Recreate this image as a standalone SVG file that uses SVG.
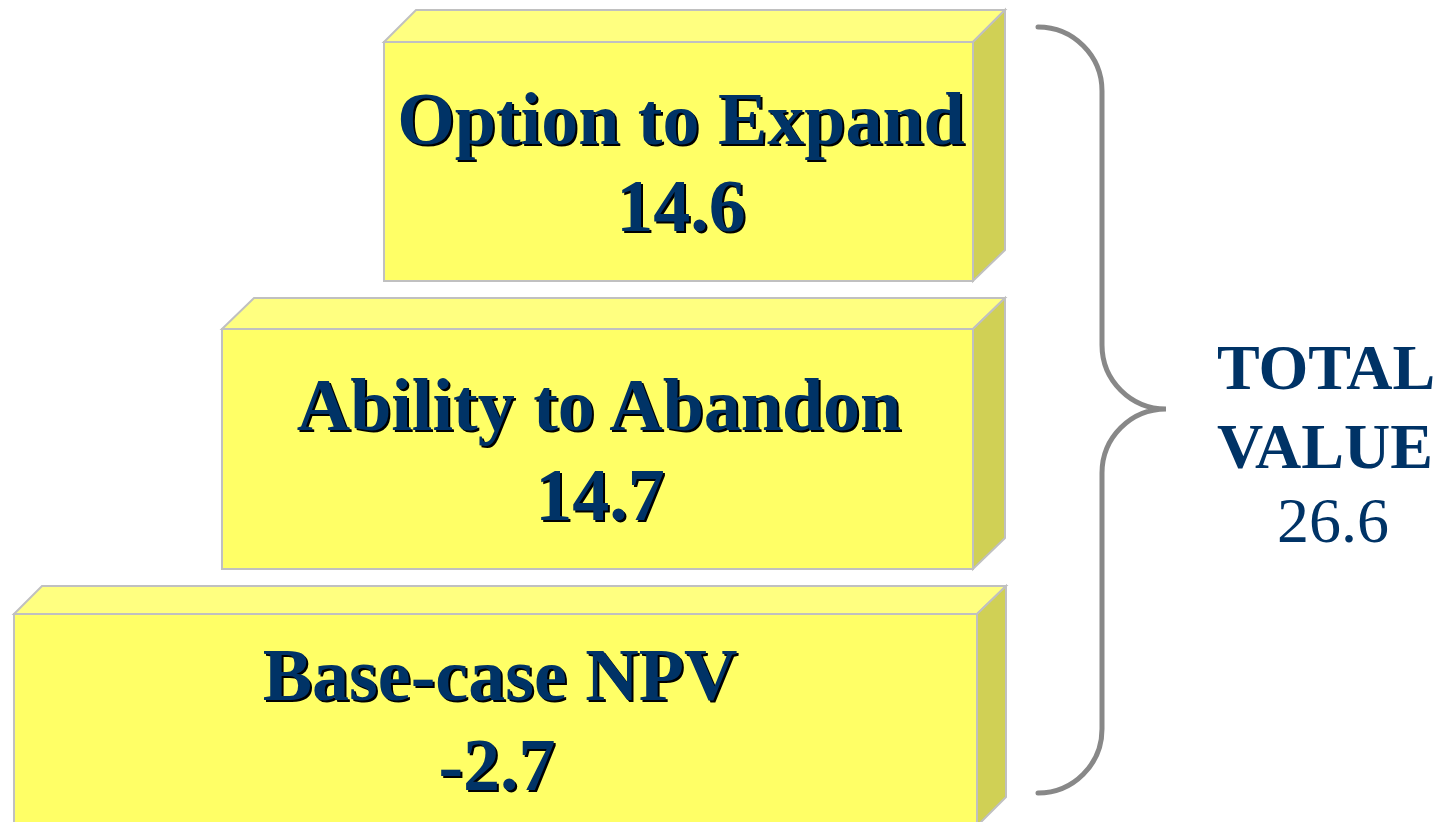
<svg xmlns="http://www.w3.org/2000/svg" width="1442" height="822" viewBox="0 0 1442 822">
<style>
.front{fill:#FFFF66;stroke:#C0C0C0;stroke-width:2}
.top{fill:#FFFF80;stroke:#C0C0C0;stroke-width:2}
.side{fill:#D0D055;stroke:#C0C0C0;stroke-width:2}
.lbl{font-family:"Liberation Serif",serif;font-weight:bold;font-size:74px;text-anchor:middle}
.sh{fill:#000000}
.fg{fill:#003366}
.tot{font-family:"Liberation Serif",serif;font-size:64px;text-anchor:middle;fill:#003366}
.brace{fill:none;stroke:#888888;stroke-width:5;stroke-linecap:round}
</style>
<rect width="1442" height="822" fill="#FFFFFF"/>
<g id="box-base">
<polygon class="top" points="14,614 42,586 1006,586 977,614"/>
<polygon class="side" points="977,614 1006,586 1006,797 977,826"/>
<rect class="front" x="14" y="614" width="963" height="215"/>
<text class="lbl sh" x="502" y="702">Base-case NPV</text>
<text class="lbl fg" x="500" y="700">Base-case NPV</text>
<text class="lbl sh" x="499" y="792">-2.7</text>
<text class="lbl fg" x="497" y="790">-2.7</text>
</g>
<g id="box-abandon">
<polygon class="top" points="222,329 254,298 1005,298 973,329"/>
<polygon class="side" points="973,329 1005,298 1005,538 973,569"/>
<rect class="front" x="222" y="329" width="751" height="240"/>
<text class="lbl sh" x="601" y="432">Ability to Abandon</text>
<text class="lbl fg" x="599" y="430">Ability to Abandon</text>
<text class="lbl sh" x="602" y="522">14.7</text>
<text class="lbl fg" x="600" y="520">14.7</text>
</g>
<g id="box-expand">
<polygon class="top" points="384,42 416,10 1005,10 973,42"/>
<polygon class="side" points="973,42 1005,10 1005,250 973,281"/>
<rect class="front" x="384" y="42" width="589" height="239"/>
<text class="lbl sh" x="683" y="146">Option to Expand</text>
<text class="lbl fg" x="681" y="144">Option to Expand</text>
<text class="lbl sh" x="683" y="233">14.6</text>
<text class="lbl fg" x="681" y="231">14.6</text>
</g>
<g id="connectors">
<path class="brace" d="M1038,27 A64,64 0 0 1 1102,91 L1102,345 A64,64 0 0 0 1166,409 A64,64 0 0 0 1102,473 L1102,729 A64,64 0 0 1 1038,793"/>
</g>
<g id="total">
<text class="tot" x="1326" y="389" font-weight="bold">TOTAL</text>
<text class="tot" x="1325" y="468" font-weight="bold">VALUE</text>
<text class="tot" x="1333" y="542">26.6</text>
</g>
</svg>
